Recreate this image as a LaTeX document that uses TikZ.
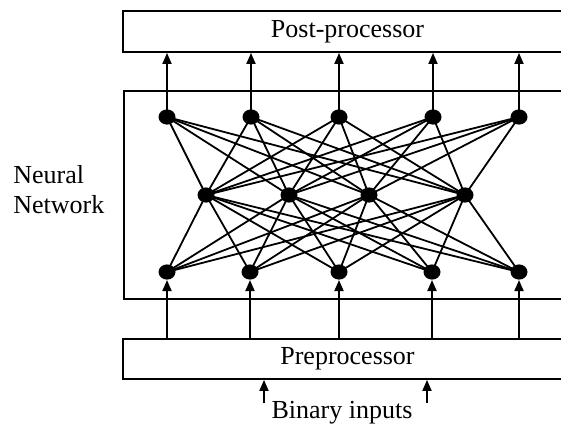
\documentclass[tikz,border=0pt]{standalone}
\usepackage{fontspec}
\setmainfont{Liberation Serif}
\usetikzlibrary{arrows.meta,shapes.geometric}
\begin{document}
\begin{tikzpicture}[x=0.5pt,y=-0.5pt,
  every node/.style={font=\fontsize{13}{15}\selectfont},
  box/.style={draw,line width=0.9pt,inner sep=0pt,minimum width=224.5pt},
  neuron/.style={ellipse,fill=black,draw=none,inner sep=0pt,minimum width=8.5pt,minimum height=7.6pt},
  link/.style={line width=0.9pt},
  arr/.style={line width=0.9pt,-{Triangle[length=5.5pt,width=4.5pt]}}]
\useasboundingbox (0,0) rectangle (561,430);
\clip (0,0) rectangle (561,430);

% blocks
\node[box,minimum height=20.5pt] (post) at (347.5,31.5) {Post-processor};
\node[box,minimum height=104pt,minimum width=224pt] (net) at (348,195) {};
\node[box,minimum height=20pt] (pre) at (347.5,359) {Preprocessor};
\node[anchor=west,align=left,inner sep=0pt] (lbl) at (13,190) {Neural\\Network};

% neurons
\foreach \i/\x in {1/167,2/251,3/339,4/433,5/519}
  \node[neuron] (t\i) at (\x,117) {};
\foreach \i/\x in {1/206,2/289,3/369,4/465}
  \node[neuron] (m\i) at (\x,195) {};
\foreach \i/\x in {1/167,2/250,3/339,4/432,5/519}
  \node[neuron] (b\i) at (\x,272) {};

% full connections between layers
\foreach \i in {1,...,5}
  \foreach \j in {1,...,4} {
    \draw[link] (t\i.center) -- (m\j.center);
    \draw[link] (b\i.center) -- (m\j.center);
  }

% outputs to the post-processor
\foreach \i in {1,...,5}
  \draw[arr] (t\i.center) -- (t\i |- post.south);

% preprocessor to the input layer
\foreach \i in {1,...,5}
  \draw[arr] (b\i |- pre.north) -- (b\i.south);

% binary inputs
\node (bin) at (342,413) {Binary inputs};
\coordinate (in1) at (264,403);
\coordinate (in2) at (427,403);
\draw[arr] (in1) -- (in1 |- pre.south);
\draw[arr] (in2) -- (in2 |- pre.south);
\end{tikzpicture}
\end{document}
